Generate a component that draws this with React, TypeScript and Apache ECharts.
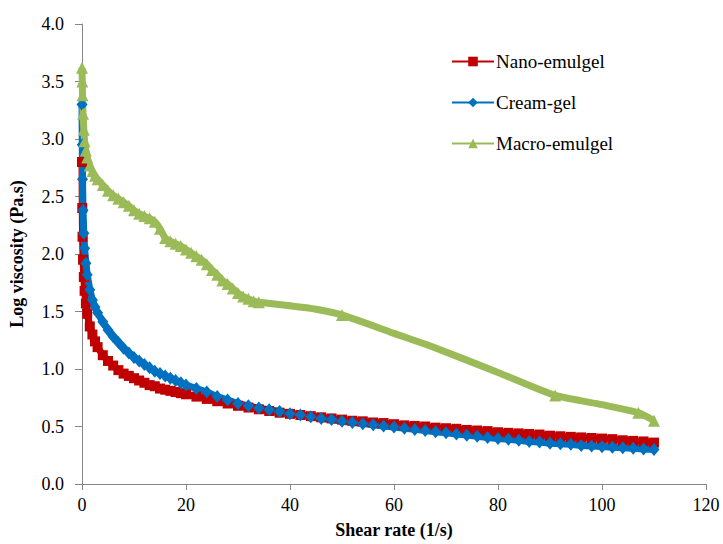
import React, { useEffect, useRef } from "react";
import * as echarts from "echarts";

const nanoX = [0, 0.05, 0.1, 0.2, 0.35, 0.5, 0.75, 1, 1.5, 2, 2.5, 3, 4, 5, 6, 7, 8, 9, 10, 11, 12, 13, 14, 15, 16, 17, 18, 19, 20, 22, 24, 26, 28, 30, 32, 34, 36, 38, 40, 42, 44, 46, 48, 50, 52, 54, 56, 58, 60, 62, 64, 66, 68, 70, 72, 74, 76, 78, 80, 82, 84, 86, 88, 90, 92, 94, 96, 98, 100, 102, 104, 106, 108, 110];
const nanoY = [2.8, 2.4, 2.15, 1.95, 1.8, 1.68, 1.57, 1.48, 1.37, 1.3, 1.24, 1.19, 1.12, 1.07, 1.03, 0.99, 0.96, 0.94, 0.92, 0.9, 0.88, 0.86, 0.85, 0.83, 0.82, 0.81, 0.8, 0.79, 0.78, 0.76, 0.74, 0.72, 0.7, 0.68, 0.665, 0.65, 0.635, 0.62, 0.61, 0.6, 0.59, 0.58, 0.57, 0.56, 0.55, 0.545, 0.535, 0.53, 0.52, 0.51, 0.505, 0.5, 0.49, 0.485, 0.48, 0.47, 0.465, 0.46, 0.45, 0.445, 0.44, 0.435, 0.43, 0.42, 0.415, 0.41, 0.405, 0.4, 0.395, 0.39, 0.38, 0.375, 0.37, 0.36];

const creamX = nanoX;
const creamY = [3.3, 2.95, 2.65, 2.38, 2.18, 2.05, 1.92, 1.82, 1.69, 1.6, 1.54, 1.49, 1.41, 1.34, 1.28, 1.23, 1.18, 1.14, 1.1, 1.07, 1.04, 1.01, 0.98, 0.96, 0.94, 0.92, 0.9, 0.88, 0.86, 0.83, 0.8, 0.76, 0.73, 0.7, 0.68, 0.66, 0.645, 0.63, 0.61, 0.6, 0.585, 0.57, 0.56, 0.545, 0.535, 0.525, 0.515, 0.505, 0.495, 0.485, 0.475, 0.465, 0.455, 0.445, 0.435, 0.425, 0.415, 0.405, 0.395, 0.39, 0.38, 0.37, 0.365, 0.355, 0.35, 0.345, 0.335, 0.33, 0.325, 0.32, 0.315, 0.31, 0.305, 0.3];

const macroX = [0, 0.05, 0.1, 0.2, 0.35, 0.5, 0.75, 1, 1.5, 2, 2.5, 3, 4, 5, 6, 7, 8, 9, 10, 11, 12, 13, 14, 15, 16, 17, 18, 19, 20, 21, 22, 23, 24, 25, 26, 27, 28, 29, 30, 31, 32, 33, 34, 40, 45, 50, 60, 67, 80, 91, 100, 107, 110];
const macroY = [3.62, 3.5, 3.38, 3.22, 3.08, 2.98, 2.9, 2.84, 2.77, 2.72, 2.68, 2.65, 2.6, 2.55, 2.51, 2.48, 2.45, 2.42, 2.38, 2.35, 2.33, 2.31, 2.28, 2.22, 2.14, 2.11, 2.09, 2.07, 2.04, 2.01, 1.98, 1.95, 1.91, 1.86, 1.82, 1.77, 1.74, 1.7, 1.66, 1.63, 1.61, 1.59, 1.58, 1.55, 1.52, 1.47, 1.31, 1.2, 0.97, 0.77, 0.69, 0.62, 0.55];
const macroDenseUpTo = 34;
const macroMarkedX = [50, 91, 107, 110];

const xTicks = [0, 20, 40, 60, 80, 100, 120];
const yTicks = [0, 0.5, 1, 1.5, 2, 2.5, 3, 3.5, 4];

const seriesNames = ["Nano-emulgel", "Cream-gel", "Macro-emulgel"];
const colors = ["#C00000", "#0070C0", "#9BBB59"];

const FONT = "'Liberation Serif', 'Times New Roman', serif";

export default function App() {
  const ref = useRef<HTMLDivElement>(null);
  useEffect(() => {
    document.body.style.margin = "0";
    const chart = echarts.init(ref.current!, null, { renderer: "svg" });
    const pairs = (xs: number[], ys: number[]) => xs.map((x, i) => [x, ys[i]]);
    const macroData = macroX.map((x, i) => ({
      value: [x, macroY[i]],
      symbolSize: x <= macroDenseUpTo || macroMarkedX.includes(x) ? 12 : 0,
    }));
    chart.setOption({
      animation: false,
      grid: { left: 82, top: 24, right: 17, bottom: 58 },
      legend: {
        orient: "vertical",
        left: 446,
        top: 47,
        itemWidth: 42,
        itemHeight: 12,
        itemGap: 22,
        textStyle: { fontFamily: FONT, fontSize: 19, color: "#000", padding: [0, 0, 0, -3] },
        data: seriesNames,
      },
      xAxis: {
        type: "value",
        min: xTicks[0],
        max: xTicks[xTicks.length - 1],
        interval: 20,
        name: "Shear rate (1/s)",
        nameLocation: "middle",
        nameGap: 37,
        nameTextStyle: { fontFamily: FONT, fontSize: 18, fontWeight: "bold", color: "#000" },
        axisLine: { lineStyle: { color: "#868686", width: 1 } },
        axisTick: { show: true, length: 6, lineStyle: { color: "#868686" } },
        axisLabel: { fontFamily: FONT, fontSize: 18, color: "#000", margin: 12 },
        splitLine: { show: false },
      },
      yAxis: {
        type: "value",
        min: yTicks[0],
        max: yTicks[yTicks.length - 1],
        interval: 0.5,
        name: "Log viscosity (Pa.s)",
        nameLocation: "middle",
        nameGap: 56,
        nameTextStyle: { fontFamily: FONT, fontSize: 18, fontWeight: "bold", color: "#000" },
        axisLine: { show: true, lineStyle: { color: "#868686", width: 1 } },
        axisTick: { show: true, length: 7, lineStyle: { color: "#868686" } },
        axisLabel: {
          fontFamily: FONT,
          fontSize: 18,
          color: "#000",
          margin: 18,
          formatter: (v: number) => v.toFixed(1),
        },
        splitLine: { show: false },
      },
      series: [
        {
          name: seriesNames[0],
          type: "line",
          data: pairs(nanoX, nanoY),
          symbol: "rect",
          symbolSize: 10,
          showAllSymbol: true,
          color: colors[0],
          lineStyle: { width: 7, color: colors[0] },
          itemStyle: { color: colors[0] },
        },
        {
          name: seriesNames[1],
          type: "line",
          data: pairs(creamX, creamY),
          symbol: "diamond",
          symbolSize: [11, 13],
          showAllSymbol: true,
          color: colors[1],
          lineStyle: { width: 7, color: colors[1] },
          itemStyle: { color: colors[1] },
        },
        {
          name: seriesNames[2],
          type: "line",
          data: macroData,
          symbol: "triangle",
          showAllSymbol: true,
          smooth: 0.2,
          color: colors[2],
          lineStyle: { width: 7, color: colors[2] },
          itemStyle: { color: colors[2] },
        },
      ],
    });
    return () => chart.dispose();
  }, []);
  return <div ref={ref} style={{ width: 723, height: 544 }} />;
}
